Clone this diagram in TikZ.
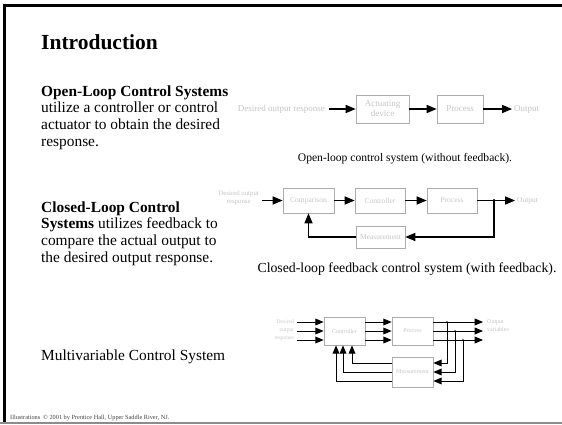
\documentclass[tikz,border=0pt]{standalone}
\usepackage{fontspec}
\setmainfont{Liberation Serif}
\usepackage{tikz}
\usetikzlibrary{arrows}

\begin{document}
\begin{tikzpicture}[x=1pt,y=-1pt,>=triangle 45,
  blk/.style={draw=boxGray,line width=0.8pt,inner sep=0pt,align=center,text=lblGray},
  lbl/.style={inner sep=0pt,align=center,text=lblGray},
  sig/.style={->,line width=1.3pt},
  msig/.style={->,line width=0.9pt},
  body/.style={anchor=base west,inner sep=0pt,align=left,font=\fontsize{15.4}{16.8}\selectfont}]
\definecolor{boxGray}{RGB}{172,172,172}
\definecolor{lblGray}{RGB}{196,196,196}
\useasboundingbox (0,0) rectangle (562,424);
% slide frame
\draw[line width=3pt] (4,424) -- (4,5) -- (562,5);
\draw[color=black!45,line width=1.5pt] (0,423) -- (562,423);
% text column (base = last line)
\node[body,font=\fontsize{21.5}{24}\selectfont\bfseries] (intro) at (41,49) {Introduction};
\node[body] (olText) at (41,146.4) {\textbf{Open-Loop Control Systems}\\utilize a controller or control\\actuator to obtain the desired\\response.};
\node[body] (clText) at (41,262.4) {\textbf{Closed-Loop Control}\\\textbf{Systems} utilizes feedback to\\compare the actual output to\\the desired output response.};
\node[body] (mvText) at (41,360) {Multivariable Control System};
% open loop
\node[blk,minimum width=53pt,minimum height=28pt,font=\fontsize{9}{10}\selectfont] (act) at (382.5,109) {Actuating\\device};
\node[blk,minimum width=46pt,minimum height=28pt,font=\fontsize{9}{10}\selectfont] (proc) at (460,109) {Process};
\node[lbl,anchor=east,inner xsep=4pt,font=\fontsize{9}{10}\selectfont] (olIn) at (329,109) {Desired output response};
\node[lbl,anchor=west,inner xsep=2pt,font=\fontsize{9}{10}\selectfont] (olOut) at (512,109) {Output};
\draw[sig] (olIn.east) -- (act.west);
\draw[sig] (act) -- (proc);
\draw[sig] (proc.east) -- (olOut.west);
\node[anchor=base,inner sep=0pt,font=\fontsize{11.6}{13}\selectfont] (olCap) at (405,161) {Open-loop control system (without feedback).};
% closed loop
\node[blk,minimum width=51pt,minimum height=25pt,font=\fontsize{7.5}{8.5}\selectfont] (cmp) at (308.5,200.5) {Comparison};
\node[blk,minimum width=50pt,minimum height=25pt,font=\fontsize{7.5}{8.5}\selectfont] (ctl) at (380,200.5) {Controller};
\node[blk,minimum width=50pt,minimum height=25pt,font=\fontsize{7.5}{8.5}\selectfont] (prc) at (452,200.5) {Process};
\node[blk,minimum width=49pt,minimum height=22pt,font=\fontsize{7.5}{8.5}\selectfont] (meas) at (380.5,237) {Measurement};
\node[lbl,anchor=east,inner xsep=3pt,font=\fontsize{6.8}{8.5}\selectfont] (clIn) at (262,198) {Desired output\\response};
\node[lbl,anchor=west,inner xsep=2pt,font=\fontsize{7.5}{8.5}\selectfont] (clOut) at (515,200.5) {Output};
\coordinate (tap) at (494,200.5);
\draw[sig] (clIn.east |- cmp) -- (cmp);
\draw[sig] (cmp) -- (ctl);
\draw[sig] (ctl) -- (prc);
\draw[sig] (prc) -- (clOut.west);
\fill (tap) circle (1.6pt);
\draw[sig] (tap) |- (meas);
\draw[sig] (meas) -| (cmp);
\node[anchor=base,inner sep=0pt,font=\fontsize{13.8}{15}\selectfont] (clCap) at (407,272) {Closed-loop feedback control system (with feedback).};
% multivariable
\node[blk,minimum width=41pt,minimum height=28pt,font=\fontsize{6}{7}\selectfont] (ctl3) at (344.5,331) {Controller};
\node[blk,minimum width=41pt,minimum height=28pt,font=\fontsize{6}{7}\selectfont] (prc3) at (412.5,331) {Process};
\node[blk,minimum width=41pt,minimum height=30pt,font=\fontsize{6}{7}\selectfont] (meas3) at (412.5,372) {Measurement};
\node[lbl,anchor=east,align=right,font=\fontsize{5.5}{8}\selectfont] (mvIn) at (294,330) {Desired\\output\\response};
\node[lbl,anchor=west,align=left,font=\fontsize{6}{8}\selectfont] (mvOut) at (487,326) {Output\\variables};
\foreach \i/\d/\tx/\fx in {1/-9/447/352,2/0/455/343,3/9/463/336} {
  \coordinate (in\i) at (297,{331+\d});
  \coordinate (out\i) at (483,{331+\d});
  \coordinate (tap\i) at (\tx,{331+\d});
  \coordinate (fb\i) at (433,{372+\d});
  \coordinate (up\i) at (\fx,345);
  \draw[msig] (in\i) -- (in\i -| ctl3.west);
  \draw[msig] (in\i -| ctl3.east) -- (in\i -| prc3.west);
  \draw[msig] (in\i -| prc3.east) -- (out\i);
  \fill (tap\i) circle (1pt);
  \draw[msig] (tap\i) |- (fb\i -| meas3.east);
  \draw[msig] (fb\i -| meas3.west) -| (up\i |- ctl3.south);
}
% footer
\node[anchor=base west,inner sep=0pt,font=\fontsize{6.3}{7}\selectfont,text=black!75] (ftL) at (10,419) {Illustrations};
\node[anchor=base west,inner sep=0pt,font=\fontsize{6.3}{7}\selectfont,text=black!75] (ftR) at (43,419) {\textcopyright{} 2001 by Prentice Hall, Upper Saddle River, NJ.};
\end{tikzpicture}
\end{document}
